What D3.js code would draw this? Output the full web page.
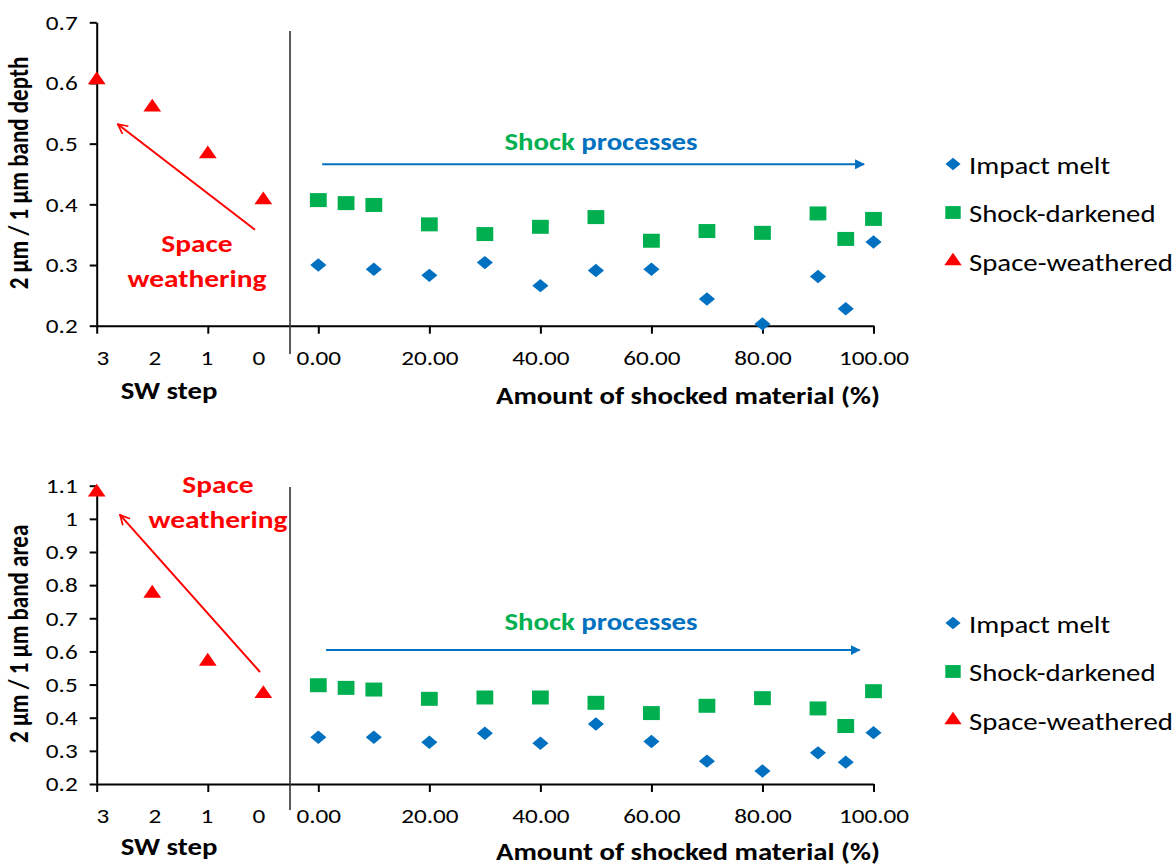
<!DOCTYPE html>
<html>
<head>
<meta charset="utf-8">
<script src="https://cdn.jsdelivr.net/npm/d3@7"></script>
<style>
  body { margin: 0; background: #fff; }
  svg { display: block; font-family: Calibri, Carlito, Lato, sans-serif; }
</style>
</head>
<body>
<div id="chart"></div>
<script>
// --- data ---
const swSteps = [3, 2, 1, 0];
const swStepLabels = ["3", "2", "1", "0"];
const swTickMarks = [3, 1];

const meltPct = [0, 10, 20, 30, 40, 50, 60, 70, 80, 90, 95, 100];
const darkPct = [0, 5, 10, 20, 30, 40, 50, 60, 70, 80, 90, 95, 100];
const pctTicks = [0, 20, 40, 60, 80, 100];

// band depth (top)
const depthSW = [0.605, 0.560, 0.483, 0.407];
const depthMelt = [0.300, 0.293, 0.283, 0.304, 0.266, 0.291, 0.293, 0.244, 0.203, 0.281, 0.228, 0.338];
const depthDark = [0.407, 0.402, 0.399, 0.367, 0.351, 0.363, 0.379, 0.340, 0.356, 0.353, 0.385, 0.343, 0.376];
const depthTicks = [0.2, 0.3, 0.4, 0.5, 0.6, 0.7];

// band area (bottom)
const areaSW = [1.08, 0.775, 0.57, 0.472];
const areaMelt = [0.341, 0.341, 0.326, 0.353, 0.323, 0.381, 0.328, 0.269, 0.239, 0.294, 0.266, 0.355];
const areaDark = [0.498, 0.490, 0.485, 0.457, 0.461, 0.461, 0.445, 0.414, 0.436, 0.459, 0.428, 0.375, 0.480];
const areaTicks = [0.2, 0.3, 0.4, 0.5, 0.6, 0.7, 0.8, 0.9, 1.0, 1.1];

const seriesNames = ["Impact melt", "Shock-darkened", "Space-weathered"];
const seriesColors = ["#0070c0", "#00b050", "#ff0000"];

const W = 1176, H = 867;
const SX = 1.2; // the figure is a little wider than tall, glyphs and markers included
const svg = d3.select("#chart").append("svg").attr("width", W).attr("height", H);

const defs = svg.append("defs");
defs.append("marker").attr("id", "headBlue")
    .attr("viewBox", "0 0 10 10").attr("refX", 9).attr("refY", 5)
    .attr("markerWidth", 5).attr("markerHeight", 5).attr("orient", "auto")
    .append("path").attr("d", "M0,0L10,5L0,10Z").attr("fill", seriesColors[0]);
defs.append("marker").attr("id", "headRed")
    .attr("viewBox", "0 0 10 10").attr("refX", 9).attr("refY", 5)
    .attr("markerWidth", 6).attr("markerHeight", 6).attr("orient", "auto")
    .append("path").attr("d", "M1,1L9,5L1,9").attr("fill", "none")
    .attr("stroke", seriesColors[2]).attr("stroke-width", 1.4);

const diamond = d3.symbol().type(d3.symbolSquare).size(90);
const square = d3.symbol().type(d3.symbolSquare).size(196);
const triangle = d3.symbol().type(d3.symbolTriangle).size(95);

// widen a text around its own anchor x
function stretch(sel) {
    sel.each(function () {
        const t = d3.select(this);
        let x = t.attr("x");
        if (x === null) {
            const ts = t.select("tspan");
            x = ts.empty() ? 0 : ts.attr("x");
        }
        x = +x || 0;
        t.attr("transform", `translate(${x},0) scale(${SX},1) translate(${-x},0)`);
    });
}

function styleAxis(g) {
    g.attr("font-size", null).attr("font-family", null);
    g.selectAll(".domain, .tick line").attr("stroke", "#000").attr("stroke-width", 2);
    g.selectAll("text").attr("fill", "#000").style("font-size", "21px").call(stretch);
}

function panel(o) {
    const g = svg.append("g");
    const y = d3.scaleLinear().domain(o.yDomain).range([o.yBottom, o.yTop]);
    const xSW = d3.scaleLinear().domain([3, -0.48]).range([96.7, 290]);
    const xSWLabel = d3.scaleLinear().domain([3, 0]).range([103, 259]);
    const xPct = d3.scaleLinear().domain([-5.1, 100]).range([290, 873.5]);

    // left y axis
    g.append("g").attr("transform", `translate(${xSW(3)},0)`)
        .call(d3.axisLeft(y).tickValues(o.yTicks).tickSize(7).tickSizeOuter(0)
            .tickPadding(12).tickFormat(d3.format("~g")))
        .call(styleAxis);

    // SW step axis
    const swAxis = g.append("g").attr("transform", `translate(0,${o.yBottom})`)
        .call(d3.axisBottom(xSW).tickValues(swTickMarks).tickSize(8).tickSizeOuter(0).tickFormat(""))
        .call(styleAxis);
    swAxis.selectAll(".swlab").data(swSteps).join("text")
        .attr("class", "swlab")
        .attr("x", d => xSWLabel(d)).attr("y", 39.5)
        .attr("text-anchor", "middle").attr("fill", "#000").style("font-size", "21px")
        .text((d, i) => swStepLabels[i])
        .call(stretch);

    // shocked material axis
    g.append("g").attr("transform", `translate(0,${o.yBottom})`)
        .call(d3.axisBottom(xPct).tickValues(pctTicks).tickSize(8).tickSizeOuter(0)
            .tickPadding(16).tickFormat(d3.format(".2f")))
        .call(styleAxis);

    // divider
    g.append("line").attr("x1", 290).attr("x2", 290)
        .attr("y1", o.divider[0]).attr("y2", o.divider[1])
        .attr("stroke", "#333").attr("stroke-width", 1.6);

    // axis titles
    g.append("text")
        .attr("transform", `translate(28,${(o.yTop + o.yBottom) / 2 - 1}) rotate(-90) scale(1,${SX})`)
        .attr("text-anchor", "middle").attr("font-weight", "bold").style("font-size", "23px")
        .text(o.yTitle);
    g.append("text").attr("x", 169).attr("y", o.yBottom + o.titleDy - 5)
        .attr("text-anchor", "middle").attr("font-weight", "bold").style("font-size", "24px")
        .text("SW step").call(stretch);
    g.append("text").attr("x", 688).attr("y", o.yBottom + o.titleDy)
        .attr("text-anchor", "middle").attr("font-weight", "bold").style("font-size", "24px")
        .text("Amount of shocked material (%)").call(stretch);

    // annotations
    g.append("line")
        .attr("x1", xSW(o.redArrow[0][0])).attr("y1", y(o.redArrow[0][1]))
        .attr("x2", xSW(o.redArrow[1][0])).attr("y2", y(o.redArrow[1][1]))
        .attr("stroke", seriesColors[2]).attr("stroke-width", 2)
        .attr("marker-end", "url(#headRed)");
    g.append("line")
        .attr("x1", xPct(o.blueArrow[0])).attr("x2", xPct(o.blueArrow[1]))
        .attr("y1", y(o.blueArrow[2])).attr("y2", y(o.blueArrow[2]))
        .attr("stroke", seriesColors[0]).attr("stroke-width", 2)
        .attr("marker-end", "url(#headBlue)");

    const sp = g.append("text").attr("x", 601).attr("y", o.shockY)
        .attr("text-anchor", "middle").attr("font-weight", "bold").style("font-size", "24px");
    sp.append("tspan").attr("fill", seriesColors[1]).text("Shock ");
    sp.append("tspan").attr("fill", seriesColors[0]).text("processes");
    sp.call(stretch);

    const sw = g.append("text").attr("text-anchor", "middle").attr("font-weight", "bold")
        .attr("fill", seriesColors[2]).style("font-size", "24.5px");
    sw.append("tspan").attr("x", o.swText[0]).attr("y", o.swText[1]).text("Space");
    sw.append("tspan").attr("x", o.swText[0]).attr("y", o.swText[1] + 35).text("weathering");
    sw.call(stretch);

    // points
    g.selectAll(".dark").data(darkPct).join("path")
        .attr("transform", (d, i) => `translate(${xPct(d)},${y(o.dark[i])}) scale(${SX},1)`)
        .attr("d", square).attr("fill", seriesColors[1]);
    g.selectAll(".melt").data(meltPct).join("path")
        .attr("transform", (d, i) => `translate(${xPct(d)},${y(o.melt[i])}) scale(${SX},1) rotate(45)`)
        .attr("d", diamond).attr("fill", seriesColors[0]);
    g.selectAll(".sw").data(swSteps).join("path")
        .attr("transform", (d, i) => `translate(${xSW(d)},${y(o.sw[i])}) scale(${SX},1)`)
        .attr("d", triangle).attr("fill", seriesColors[2]);

    // legend
    const lg = g.append("g").attr("transform", `translate(953,${o.legendY})`);
    const shapes = [
        { d: d3.symbol().type(d3.symbolSquare).size(80)(), r: 45 },
        { d: d3.symbol().type(d3.symbolSquare).size(165)(), r: 0 },
        { d: d3.symbol().type(d3.symbolTriangle).size(90)(), r: 0 }
    ];
    const items = lg.selectAll("g").data(seriesNames).join("g")
        .attr("transform", (d, i) => `translate(0,${i * 48.5})`);
    items.append("path").attr("d", (d, i) => shapes[i].d)
        .attr("transform", (d, i) => `scale(${SX},1) rotate(${shapes[i].r})`)
        .attr("fill", (d, i) => seriesColors[i]);
    items.append("text").attr("x", 16).attr("y", 9.5).style("font-size", "24px")
        .text(d => d).call(stretch);
}

panel({
    yDomain: [0.2, 0.7], yTicks: depthTicks, yTop: 22.3, yBottom: 325.7,
    yTitle: "2 µm / 1 µm band depth",
    sw: depthSW, melt: depthMelt, dark: depthDark,
    divider: [31, 354], titleDy: 78,
    redArrow: [[0.15, 0.358], [2.62, 0.532]], blueArrow: [0.7, 98.3, 0.466],
    shockY: 150, swText: [197, 252], legendY: 164
});

panel({
    yDomain: [0.2, 1.1], yTicks: areaTicks, yTop: 485.7, yBottom: 784,
    yTitle: "2 µm / 1 µm band area",
    sw: areaSW, melt: areaMelt, dark: areaDark,
    divider: [487, 810], titleDy: 76,
    redArrow: [[0.06, 0.538], [2.58, 1.012]], blueArrow: [1.4, 97.5, 0.604],
    shockY: 630, swText: [218, 493], legendY: 623
});
</script>
</body>
</html>
